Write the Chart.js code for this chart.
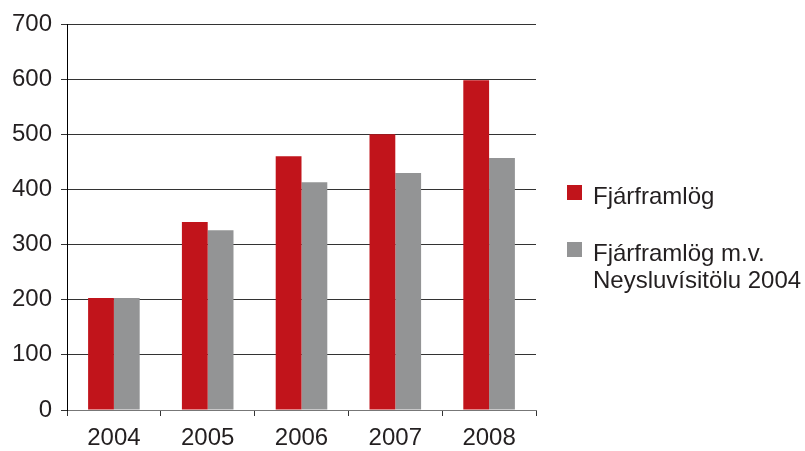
<!DOCTYPE html>
<html>
<head>
<meta charset="utf-8">
<script src="https://cdn.jsdelivr.net/npm/chart.js@4"></script>
<style>
  body { margin: 0; background: #fff; }
  #wrap { position: relative; width: 805px; height: 451px; }
  #legend { position: absolute; left: 567px; top: 182px; font-family: "Liberation Sans", Arial, sans-serif; font-size: 24px; color: #231f20; }
  .item { position: relative; padding-left: 26px; line-height: 27px; margin-bottom: 30px; white-space: nowrap; }
  .box { position: absolute; left: 0; top: 3px; width: 15px; height: 15px; }
</style>
</head>
<body>
<div id="wrap">
  <canvas id="myChart" width="805" height="451"></canvas>
  <div id="legend"></div>
</div>
<script>
  var years = ['2004', '2005', '2006', '2007', '2008']
  var framlog = [203, 341, 460, 500, 598]
  var framlogVisitala = [203, 326, 413, 430, 457]
  var seriesNames = [['Fjárframlög'], ['Fjárframlög m.v.', 'Neysluvísitölu 2004']]
  var colors = ['#c1141b', '#939495']

  var font = { family: '"Liberation Sans", Arial, sans-serif', size: 24 }

  var ctx = document.getElementById('myChart').getContext('2d');
  var chart = new Chart(ctx, {
    type: 'bar',
    data: {
      labels: years,
      datasets: [
        { label: seriesNames[0].join(' '), data: framlog, backgroundColor: colors[0] },
        { label: seriesNames[1].join(' '), data: framlogVisitala, backgroundColor: colors[1] }
      ]
    },
    options: {
      responsive: false,
      animation: false,
      layout: { padding: { top: 24, right: 269, left: 0, bottom: 0 } },
      datasets: { bar: { categoryPercentage: 0.55, barPercentage: 1 } },
      plugins: { legend: { display: false }, tooltip: { enabled: false } },
      scales: {
        x: {
          grid: { drawOnChartArea: false, drawTicks: true, tickLength: 6, offset: true, color: '#333' },
          border: { color: '#777', width: 1 },
          ticks: { font: font, color: '#231f20', padding: 8 },
          afterFit: function (s) { s.height = 41 }
        },
        y: {
          min: 0, max: 700,
          grid: { color: '#333', lineWidth: 1, tickLength: 6 },
          border: { color: '#000', width: 1 },
          ticks: { stepSize: 100, font: font, color: '#231f20', padding: 9 },
          afterFit: function (s) { s.width = 67 }
        }
      }
    }
  });

  // legend as html so the second label can wrap onto two lines
  var leg = document.getElementById('legend')
  seriesNames.forEach(function (lines, i) {
    var d = document.createElement('div')
    d.className = 'item'
    d.innerHTML = '<span class="box" style="background:' + colors[i] + '"></span>' + lines.join('<br>')
    leg.appendChild(d)
  })
</script>
</body>
</html>
